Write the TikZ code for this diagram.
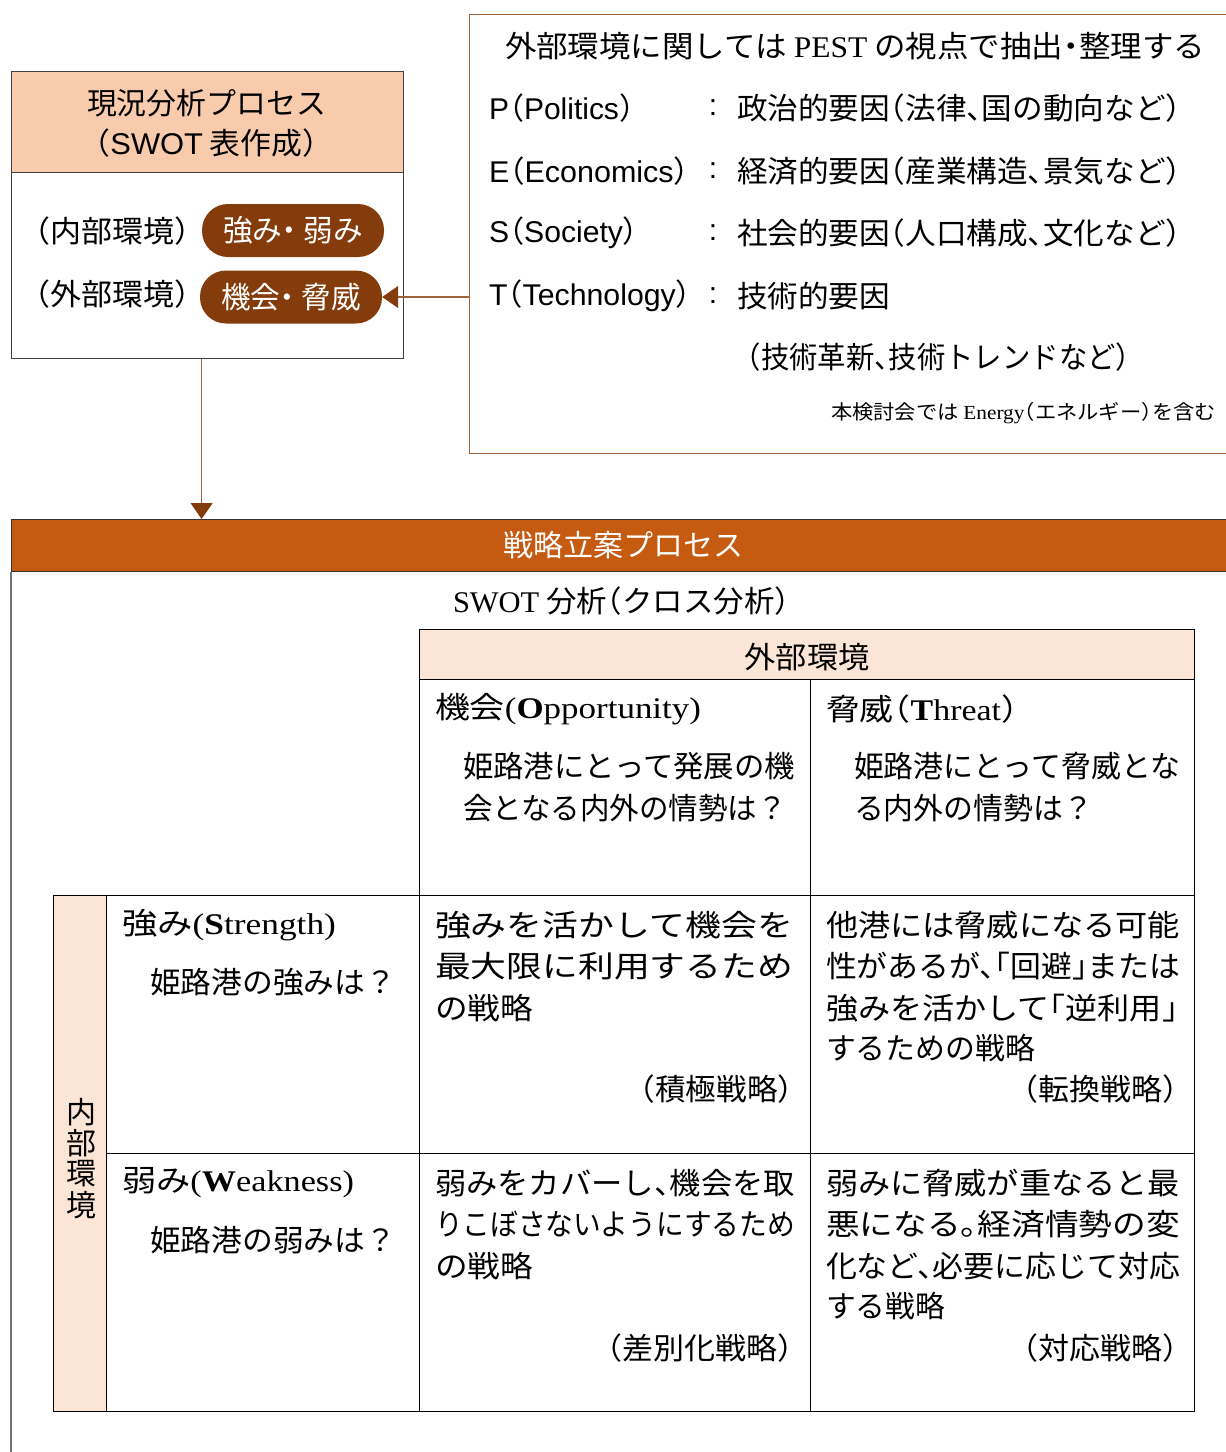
\documentclass[tikz,border=0pt]{standalone}
\usepackage{fontspec}
\usepackage{graphicx}
\usetikzlibrary{arrows.meta}
\setmainfont{Liberation Serif}
\newfontfamily\jp[RawFeature=+halt]{Noto Sans CJK JP}
\newfontfamily\lsans{Liberation Sans}
\definecolor{peach}{HTML}{F8CBAD}
\definecolor{lpeach}{HTML}{FBE5D6}
\definecolor{pillbrown}{HTML}{843C0C}
\definecolor{barorange}{HTML}{C55A11}
\definecolor{linebrown}{HTML}{A0643C}
\newcommand\fw[2]{\resizebox{#1pt}{\height}{#2}}
\tikzset{
  tx/.style={inner sep=0pt, outer sep=0pt, font=\jp\fontsize{30}{36}\selectfont, anchor=west},
  txs/.style={tx, font=\jp\fontsize{20}{24}\selectfont},
  cell/.style={draw=black, line width=1.3pt, anchor=north west, inner sep=0pt},
  pill/.style={fill=pillbrown, draw=none, rounded corners=26pt, minimum width=182pt, minimum height=53pt, inner sep=0pt, text=white, font=\jp\fontsize{30}{36}\selectfont},
  arr/.style={draw=linebrown, line width=1.2pt, -{Triangle[width=22pt,length=16pt,color=pillbrown]}},
}
\begin{document}
\begin{tikzpicture}[x=1pt,y=-1pt]
\clip (0,0) rectangle (1226,1452);
\fill[white] (0,0) rectangle (1226,1452);

% ---------- current-state analysis box ----------
\node[draw=black!75, fill=peach, line width=1.2pt, anchor=north west, minimum width=392pt, minimum height=101pt, inner sep=0pt] (curhead) at (11,71) {};
\node[draw=black!75, line width=1.2pt, anchor=north west, minimum width=392pt, minimum height=186pt, inner sep=0pt] (curbody) at (11,172) {};
\node[tx] (h1) at (87,103) {\fw{239}{現況分析プロセス}};
\node[tx] (h2) at (95,143) {\fw{223}{（{\lsans SWOT} 表作成）}};
\node[tx] (ie) at (35,231) {\fw{155}{（内部環境）}};
\node[tx] (ee) at (35,294) {\fw{155}{（外部環境）}};
\node[pill] (sw) at (293,230.5) {\fw{140}{強み・ 弱み}};
\node[pill] (ot) at (291,297) {\fw{140}{機会・ 脅威}};

% ---------- PEST box ----------
\node[draw=linebrown, line width=1.2pt, anchor=north west, minimum width=790pt, minimum height=439pt, inner sep=0pt] (pest) at (469,14) {};
\node[tx] (pt) at (505,46) {\fw{700}{外部環境に関しては {\rmfamily PEST} の視点で抽出・整理する}};
\node[tx] (pP) at (489,108) {\fw{145}{{\lsans P}（{\lsans Politics}）}};
\node[tx] (pE) at (489,171) {\fw{200}{{\lsans E}（{\lsans Economics}）}};
\node[tx] (pS) at (489,233) {\fw{149}{{\lsans S}（{\lsans Society}）}};
\node[tx] (pT) at (489,296) {\fw{202}{{\lsans T}（{\lsans Technology}）}};
\node[tx, anchor=center] (cP) at (713,108) {\lsans :};
\node[tx, anchor=center] (cE) at (713,171) {\lsans :};
\node[tx, anchor=center] (cS) at (713,233) {\lsans :};
\node[tx, anchor=center] (cT) at (713,296) {\lsans :};
\node[tx] (dP) at (737,108) {\fw{444}{政治的要因（法律、国の動向など）}};
\node[tx] (dE) at (737,171) {\fw{444}{経済的要因（産業構造、景気など）}};
\node[tx] (dS) at (737,233) {\fw{444}{社会的要因（人口構成、文化など）}};
\node[tx] (dT) at (737,296) {\fw{153}{技術的要因}};
\node[tx] (dT2) at (747,357) {\fw{383}{（技術革新、技術トレンドなど）}};
\node[txs] (en) at (831,413) {\fw{385}{本検討会では {\rmfamily Energy}（エネルギー）を含む}};

\draw[arr] (pest.west |- ot.east) -- (ot.east);

% ---------- strategy process ----------
\node[fill=barorange, draw=black!80, line width=1.2pt, anchor=north west, minimum width=1240pt, minimum height=52pt, inner sep=0pt] (bar) at (11,519) {};
\node[tx, anchor=center, text=white] (bart) at (623,545) {\fw{240}{戦略立案プロセス}};
\draw[black!55, line width=1.5pt] (bar.south west) -- ++(0,900);
\draw[arr] ([xshift=-6pt]curbody.south) -- ([xshift=-6pt]curbody.south |- bar.north);

\node[tx] (swot) at (453,601) {\fw{337}{{\rmfamily SWOT} 分析（クロス分析）}};

% grid
\node[cell, fill=lpeach, minimum width=775pt, minimum height=50pt] (ext) at (419,629) {};
\node[cell, minimum width=391pt, minimum height=216pt] (O) at (419,679) {};
\node[cell, minimum width=384pt, minimum height=216pt] (T) at (810,679) {};
\node[cell, fill=lpeach, minimum width=53pt, minimum height=516pt] (IN) at (53,895) {};
\node[cell, minimum width=313pt, minimum height=258pt] (S) at (106,895) {};
\node[cell, minimum width=313pt, minimum height=258pt] (W) at (106,1153) {};
\node[cell, minimum width=391pt, minimum height=258pt] (SO) at (419,895) {};
\node[cell, minimum width=384pt, minimum height=258pt] (ST) at (810,895) {};
\node[cell, minimum width=391pt, minimum height=258pt] (WO) at (419,1153) {};
\node[cell, minimum width=384pt, minimum height=258pt] (WT) at (810,1153) {};

\node[tx, anchor=center] (extt) at (807,657) {\fw{125}{外部環境}};
\node[tx] (Ot) at (435,709) {\fw{266}{機会{\rmfamily(\textbf{O}pportunity)}}};
\node[tx] (Tt) at (826,709) {\fw{192}{脅威（{\rmfamily\textbf{T}hreat}）}};
\node[tx] (O1) at (463,766) {\fw{332}{姫路港にとって発展の機}};
\node[tx] (O2) at (463,808) {\fw{324}{会となる内外の情勢は？}};
\node[tx] (T1) at (854,766) {\fw{326}{姫路港にとって脅威とな}};
\node[tx] (T2) at (854,808) {\fw{239}{る内外の情勢は？}};

\node[tx] (St) at (122,925) {\fw{214}{強み{\rmfamily(\textbf{S}trength)}}};
\node[tx] (S1) at (150,982) {\fw{246}{姫路港の強みは？}};
\node[tx] (Wt) at (122,1183) {\fw{232}{弱み{\rmfamily(\textbf{W}eakness)}}};
\node[tx] (W1) at (150,1240) {\fw{246}{姫路港の弱みは？}};

\node[tx, anchor=center] (in1) at (81,1112) {内};
\node[tx, anchor=center] (in2) at (81,1143) {部};
\node[tx, anchor=center] (in3) at (81,1174) {環};
\node[tx, anchor=center] (in4) at (81,1205) {境};

\node[tx] (so1) at (435,925) {\fw{358}{強みを活かして機会を}};
\node[tx] (so2) at (435,966) {\fw{358}{最大限に利用するため}};
\node[tx] (so3) at (435,1008) {\fw{98}{の戦略}};
\node[tx, anchor=east] (so4) at (793,1089) {\fw{153}{（積極戦略）}};

\node[tx] (st1) at (826,925) {\fw{354}{他港には脅威になる可能}};
\node[tx] (st2) at (826,966) {\fw{354}{性があるが、「回避」または}};
\node[tx] (st3) at (826,1008) {\fw{352}{強みを活かして「逆利用」}};
\node[tx] (st4) at (826,1048) {\fw{209}{するための戦略}};
\node[tx, anchor=east] (st5) at (1178,1089) {\fw{155}{（転換戦略）}};

\node[tx] (wo1) at (435,1183) {\fw{360}{弱みをカバーし、機会を取}};
\node[tx] (wo2) at (435,1224) {\fw{360}{りこぼさないようにするため}};
\node[tx] (wo3) at (435,1266) {\fw{98}{の戦略}};
\node[tx, anchor=east] (wo4) at (793,1348) {\fw{186}{（差別化戦略）}};

\node[tx] (wt1) at (826,1183) {\fw{354}{弱みに脅威が重なると最}};
\node[tx] (wt2) at (826,1224) {\fw{354}{悪になる。経済情勢の変}};
\node[tx] (wt3) at (826,1266) {\fw{354}{化など、必要に応じて対応}};
\node[tx] (wt4) at (826,1306) {\fw{119}{する戦略}};
\node[tx, anchor=east] (wt5) at (1178,1348) {\fw{155}{（対応戦略）}};
\end{tikzpicture}
\end{document}
